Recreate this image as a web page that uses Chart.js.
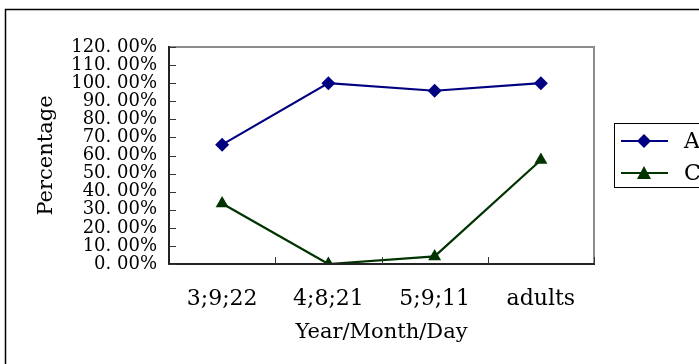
<!DOCTYPE html>
<html>
<head>
<meta charset="utf-8">
<script src="https://cdn.jsdelivr.net/npm/chart.js@4"></script>
<style>
  html, body { margin: 0; padding: 0; background: #fff; }
  #wrap { width: 699px; height: 364px; position: relative; }
</style>
</head>
<body>
<div id="wrap"><canvas id="c" width="699" height="364"></canvas></div>
<script>
// Categories (age points) and percentages per series
const categories = ['3;9;22', '4;8;21', '5;9;11', 'adults'];
const seriesA = [66.0, 100, 95.8, 100];
const seriesC = [33.5, 0, 4.2, 57.5];
const seriesNames = ['A', 'C'];
const yTickLabels = ['0. 00%', '10. 00%', '20. 00%', '30. 00%', '40. 00%', '50. 00%', '60. 00%',
  '70. 00%', '80. 00%', '90. 00%', '100. 00%', '110. 00%', '120. 00%'];

const FONT = '"DejaVu Serif", "Liberation Serif", serif';
const BLUE = '#000080';
const GREEN = '#003300';

// Outer frame, inside tick marks, plot border and a boxed legend
const decor = {
  id: 'decor',
  beforeDraw(chart) {
    const ctx = chart.ctx;
    ctx.save();
    ctx.fillStyle = '#fff';
    ctx.fillRect(0, 0, chart.width, chart.height);
    ctx.strokeStyle = '#000';
    ctx.lineWidth = 1.5;
    ctx.beginPath();
    ctx.moveTo(5.5, chart.height + 2);
    ctx.lineTo(5.5, 9.5);
    ctx.lineTo(chart.width + 2, 9.5);
    ctx.stroke();
    ctx.restore();
  },
  afterDatasetsDraw(chart) {
    const ctx = chart.ctx;
    const a = chart.chartArea;
    const x = chart.scales.x, y = chart.scales.y;
    ctx.save();
    // grey top/right border
    ctx.strokeStyle = '#8c8c8c';
    ctx.lineWidth = 2;
    ctx.beginPath();
    ctx.moveTo(a.left, a.top);
    ctx.lineTo(a.right, a.top);
    ctx.lineTo(a.right, a.bottom);
    ctx.stroke();
    // dark axes
    ctx.strokeStyle = '#222';
    ctx.beginPath();
    ctx.moveTo(a.left, a.top - 1);
    ctx.lineTo(a.left, a.bottom);
    ctx.lineTo(a.right + 1, a.bottom);
    ctx.stroke();
    // inside ticks
    ctx.lineWidth = 1;
    ctx.strokeStyle = '#333';
    ctx.beginPath();
    y.ticks.forEach(t => {
      const py = Math.round(y.getPixelForValue(t.value)) + 0.5;
      ctx.moveTo(a.left, py);
      ctx.lineTo(a.left + 7, py);
    });
    for (let i = 0; i < categories.length; i++) {
      const px = Math.round((x.getPixelForValue(i) + x.getPixelForValue(i + 1)) / 2) + 0.5;
      ctx.moveTo(px, a.bottom);
      ctx.lineTo(px, a.bottom - 7);
    }
    ctx.stroke();
    ctx.restore();
  },
  afterDraw(chart) {
    const ctx = chart.ctx;
    ctx.save();
    const bx = 614.5, by = 123.5, bw = 100, bh = 64;
    ctx.strokeStyle = '#000';
    ctx.lineWidth = 1;
    ctx.strokeRect(bx, by, bw, bh);
    chart.data.datasets.forEach((ds, i) => {
      const ly = 141 + i * 32;
      ctx.strokeStyle = ds.borderColor;
      ctx.lineWidth = 2;
      ctx.beginPath();
      ctx.moveTo(621, ly);
      ctx.lineTo(668, ly);
      ctx.stroke();
      ctx.fillStyle = ds.backgroundColor;
      ctx.beginPath();
      if (ds.pointStyle === 'rectRot') {
        ctx.moveTo(644, ly - 7); ctx.lineTo(651, ly); ctx.lineTo(644, ly + 7); ctx.lineTo(637, ly);
      } else {
        ctx.moveTo(644, ly - 7); ctx.lineTo(651, ly + 6); ctx.lineTo(637, ly + 6);
      }
      ctx.closePath();
      ctx.fill();
      ctx.fillStyle = '#000';
      ctx.font = '22px ' + FONT;
      ctx.textBaseline = 'middle';
      ctx.fillText(ds.label, 684, ly + 1);
    });
    ctx.restore();
  }
};

new Chart(document.getElementById('c'), {
  type: 'line',
  data: {
    labels: categories,
    datasets: [
      { label: seriesNames[0], data: seriesA, borderColor: BLUE, backgroundColor: BLUE,
        borderWidth: 2.2, pointStyle: 'rectRot', pointRadius: 7, pointHoverRadius: 7, pointBorderWidth: 0 },
      { label: seriesNames[1], data: seriesC, borderColor: GREEN, backgroundColor: GREEN,
        borderWidth: 2.2, pointStyle: 'triangle', pointRadius: 7.5, pointHoverRadius: 7.5, pointBorderWidth: 0 }
    ]
  },
  options: {
    responsive: false,
    animation: false,
    events: [],
    layout: { padding: { top: 47, right: 105, left: 32, bottom: 17 } },
    plugins: { legend: { display: false }, tooltip: { enabled: false } },
    scales: {
      x: {
        offset: true,
        grid: { display: false, drawTicks: false },
        border: { display: false },
        ticks: { color: '#000', font: { family: FONT, size: 22 }, padding: 22, maxRotation: 0, autoSkip: false },
        title: { display: true, text: 'Year/Month/Day', color: '#000', font: { family: FONT, size: 21 }, padding: { top: 0, bottom: 2 } },
        afterFit(s) { s.height = 83; }
      },
      y: {
        min: 0, max: 120,
        ticks: {
          stepSize: 10, color: '#000', padding: 12, autoSkip: false,
          font: { family: FONT, size: 18, lineHeight: 1 },
          callback: (v, i) => yTickLabels[i]
        },
        grid: { display: false, drawTicks: false },
        border: { display: false },
        title: { display: true, text: 'Percentage', color: '#000', font: { family: FONT, size: 21 }, padding: { top: 2, bottom: 2 } },
        afterFit(s) { s.width = 137; }
      }
    }
  },
  plugins: [decor]
});
</script>
</body>
</html>
